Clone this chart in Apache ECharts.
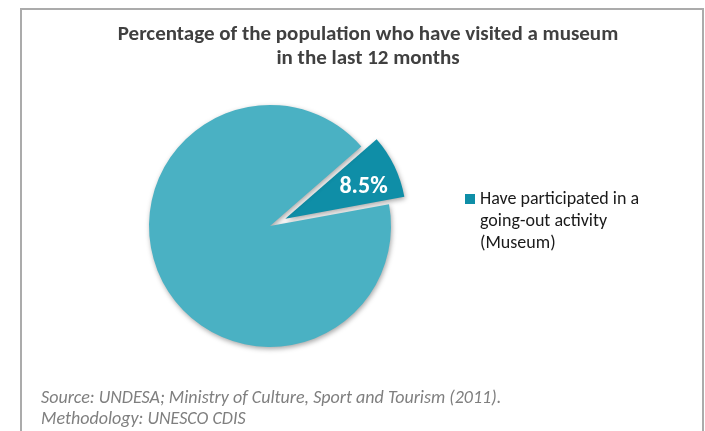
<!DOCTYPE html>
<html>
<head>
<meta charset="utf-8">
<style>
  html, body { margin: 0; padding: 0; background: #ffffff; }
  #chart { width: 705px; height: 431px; }
</style>
<script src="https://cdn.jsdelivr.net/npm/echarts@6/dist/echarts.min.js"></script>
</head>
<body>
<div id="chart"></div>
<script>
// Museum attendance share (percent of population)
const categories = ['Have participated in a\ngoing-out activity\n(Museum)', 'Have not participated'];
const values = [8.5, 91.5];
const sliceColors = ['#0F8EA7', '#4AB1C3'];
const titleText = 'Percentage of the population who have visited a museum\nin the last 12 months';
const sourceText = 'Source: UNDESA; Ministry of Culture, Sport and Tourism (2011).\nMethodology: UNESCO CDIS';

const fontFamily = 'Carlito, "Open Sans", Lato, sans-serif';

const chart = echarts.init(document.getElementById('chart'), null, { renderer: 'canvas' });

const pieData = categories.map((name, i) => ({
  name: name,
  value: values[i],
  selected: i === 0,
  itemStyle: { color: sliceColors[i] },
  label: { show: i === 0 }
}));

chart.setOption({
  backgroundColor: '#ffffff',
  animation: false,
  title: [
    {
      text: titleText,
      left: 363,
      top: 18,
      textAlign: 'center',
      textStyle: {
        fontFamily: fontFamily,
        fontSize: 21,
        fontWeight: 'bold',
        color: '#404040',
        lineHeight: 24
      }
    },
    {
      text: sourceText,
      left: 36,
      top: 383,
      textStyle: {
        fontFamily: fontFamily,
        fontSize: 18,
        fontStyle: 'italic',
        fontWeight: 'normal',
        color: '#7F7F7F',
        lineHeight: 21
      }
    }
  ],
  graphic: [
    {
      type: 'rect',
      shape: { x: 21, y: 9, width: 682, height: 440 },
      style: { fill: 'none', stroke: '#ABABAB', lineWidth: 2 },
      silent: true,
      z: -1
    }
  ],
  legend: {
    data: [categories[0]],
    orient: 'vertical',
    left: 465,
    top: 144,
    padding: 0,
    icon: 'rect',
    itemWidth: 10,
    itemHeight: 10,
    selectedMode: false,
    // two leading blank lines keep the swatch level with the first text line
    formatter: name => '\n\n' + name,
    textStyle: {
      fontFamily: fontFamily,
      fontSize: 18,
      color: '#1A1A1A',
      lineHeight: 22
    }
  },
  series: [
    {
      type: 'pie',
      center: [270, 226],
      radius: 121,
      startAngle: 41,
      clockwise: true,
      selectedMode: 'single',
      selectedOffset: 17,
      avoidLabelOverlap: false,
      emphasis: { disabled: true },
      itemStyle: {
        shadowBlur: 5,
        shadowColor: 'rgba(0,0,0,0.35)',
        shadowOffsetX: 1,
        shadowOffsetY: 2
      },
      label: {
        position: 'inside',
        formatter: '{c}%',
        color: '#ffffff',
        fontFamily: fontFamily,
        fontSize: 24,
        fontWeight: 'bold'
      },
      labelLayout: () => ({ dx: 21, dy: -4 }),
      labelLine: { show: false },
      data: pieData
    }
  ]
});
</script>
</body>
</html>
